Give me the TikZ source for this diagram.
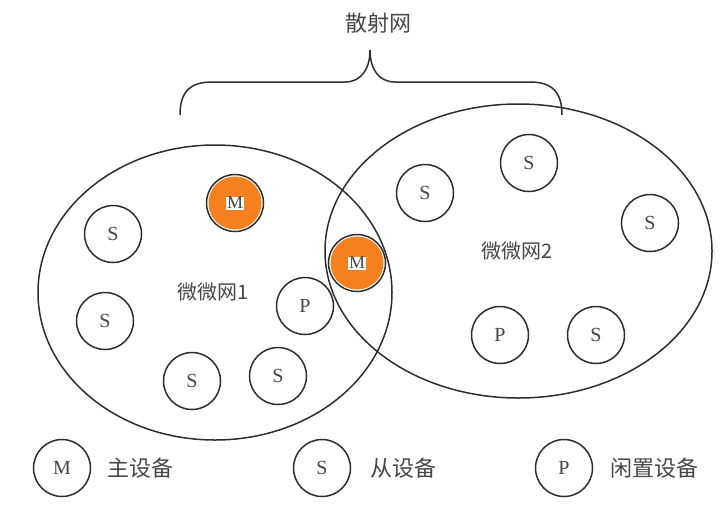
\documentclass[tikz,border=0pt]{standalone}
\usepackage{fontspec}
\newfontfamily\cjk{Noto Sans CJK SC}
\setmainfont{Liberation Serif}
\usetikzlibrary{shapes.geometric}
\definecolor{ink}{RGB}{45,45,45}
\definecolor{txt}{RGB}{70,70,70}
\definecolor{morange}{RGB}{245,128,32}
\tikzset{
  dev/.style={circle, draw=ink, line width=1.5pt, minimum size=57pt, inner sep=0pt, fill=white,
              text=txt, font=\fontsize{20}{20}\selectfont},
  net/.style={ellipse, draw=ink, line width=1.5pt, inner sep=0pt},
  lbl/.style={text=txt, font=\cjk\fontsize{20}{22}\selectfont},
  legtxt/.style={lbl, anchor=west, font=\cjk\fontsize{22}{24}\selectfont},
  mtxt/.style={text=txt, font=\fontsize{18}{18}\selectfont},
}
\begin{document}
\begin{tikzpicture}[x=1pt,y=-1pt]
\useasboundingbox (0,0) rectangle (727,507);
% networks
\node[net, minimum width=354pt, minimum height=295pt] (net1) at (215,292.5) {};
\node[net, minimum width=387pt, minimum height=294pt] (net2) at (518.5,251) {};
\node[lbl] (l1) at (213,292) {微微网1};
\node[lbl] (l2) at (517,251) {微微网2};
% brace
\draw[ink, line width=1.5pt] (180,115) .. controls (180,92) and (190,82) .. (212,82)
  -- (345,82) .. controls (362,82) and (370,68) .. (370,50)
  .. controls (370,68) and (378,82) .. (395,82)
  -- (530,82) .. controls (552,82) and (562,92) .. (562,115);
\node[lbl, font=\cjk\fontsize{22}{24}\selectfont] (title) at (378,23) {散射网};
% devices in piconet 1
\node[dev] (s1) at (113,234) {S};
\node[dev] (s2) at (105,321) {S};
\node[dev] (s3) at (192,381) {S};
\node[dev] (s4) at (278,376) {S};
\node[dev] (p1) at (305,306) {P};
\node[dev] (m1) at (235,203) {};
\fill[morange] (m1.center) circle (26.5pt);
\node[mtxt] (m1t) at (m1.center) {\fboxsep=0.6pt\colorbox{white}{M}};
% shared master
\node[dev] (m2) at (357,263) {};
\fill[morange] (m2.center) circle (26.5pt);
\node[mtxt] (m2t) at (m2.center) {\fboxsep=0.6pt\colorbox{white}{M}};
% devices in piconet 2
\node[dev] (s5) at (425,193) {S};
\node[dev] (s6) at (529,163) {S};
\node[dev] (s7) at (650,223) {S};
\node[dev] (p2) at (500,335) {P};
\node[dev] (s8) at (596,335) {S};
% legend
\node[dev] (lm) at (62,468) {M};
\node[legtxt] (lmt) at (104,468) {主设备};
\node[dev] (ls) at (322,468) {S};
\node[legtxt] (lst) at (367,468) {从设备};
\node[dev] (lp) at (564,468) {P};
\node[legtxt] (lpt) at (607,468) {闲置设备};
\end{tikzpicture}
\end{document}
